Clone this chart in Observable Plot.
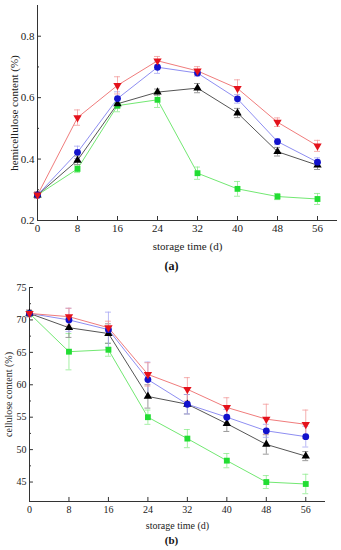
<!DOCTYPE html>
<html>
<head>
<meta charset="utf-8">
<script src="https://cdn.jsdelivr.net/npm/d3@7"></script>
<script src="https://cdn.jsdelivr.net/npm/@observablehq/plot@0.6"></script>
<style>
  html, body { margin: 0; padding: 0; background: #fff; }
  #root { width: 341px; }
  svg { display: block; }
</style>
</head>
<body>
<div id="root"></div>
<script>
// ---- shared x categories ----
const days = [0, 8, 16, 24, 32, 40, 48, 56];

// ---- (a) hemicellulose content (%) ----
const hemiRed      = [0.283, 0.535, 0.640, 0.720, 0.687, 0.630, 0.520, 0.443];
const hemiRedErr   = [0.010, 0.025, 0.028, 0.014, 0.014, 0.028, 0.014, 0.018];
const hemiBlue     = [0.283, 0.422, 0.597, 0.699, 0.680, 0.596, 0.457, 0.390];
const hemiBlueErr  = [0.010, 0.020, 0.022, 0.020, 0.010, 0.014, 0.010, 0.014];
const hemiBlack    = [0.283, 0.396, 0.580, 0.618, 0.631, 0.550, 0.424, 0.380];
const hemiBlackErr = [0.010, 0.014, 0.014, 0.010, 0.015, 0.015, 0.014, 0.014];
const hemiGreen    = [0.283, 0.368, 0.574, 0.593, 0.354, 0.303, 0.278, 0.270];
const hemiGreenErr = [0.010, 0.012, 0.020, 0.025, 0.020, 0.024, 0.010, 0.018];
const hemiTicks      = [0.2, 0.4, 0.6, 0.8];
const hemiMinorTicks = [0.3, 0.5, 0.7];

// ---- (b) cellulose content (%) ----
const celRed      = [71.0, 70.5, 68.8, 61.6, 59.3, 56.5, 54.7, 53.9];
const celRedErr   = [0.5, 1.3, 1.0, 1.8, 1.8, 1.5, 2.3, 2.2];
const celBlue     = [71.0, 70.0, 68.5, 60.8, 57.0, 55.0, 52.9, 52.0];
const celBlueErr  = [0.5, 1.8, 2.7, 2.7, 1.5, 1.2, 1.0, 1.6];
const celBlack    = [71.0, 68.8, 67.9, 58.2, 57.0, 54.0, 50.8, 49.0];
const celBlackErr = [0.5, 1.5, 1.5, 1.8, 1.5, 1.2, 1.5, 0.7];
const celGreen    = [71.0, 65.1, 65.4, 55.0, 51.7, 48.3, 45.0, 44.7];
const celGreenErr = [0.5, 2.8, 1.0, 1.1, 1.4, 1.1, 1.0, 1.5];
const celTicks      = [45, 50, 55, 60, 65, 70, 75];
const celMinorTicks = [47.5, 52.5, 57.5, 62.5, 67.5, 72.5];

// ---- styles ----
const styles = {
  red:   {marker: "#e4121c", line: "#f07c7c", err: "#f29a9a", symbol: "triangle", rotate: 180, r: 3.1},
  blue:  {marker: "#1212cc", line: "#8e8ef2", err: "#a6a6f2", symbol: "circle",   rotate: 0,   r: 3.4},
  black: {marker: "#000000", line: "#555555", err: "#808080", symbol: "triangle", rotate: 0,   r: 3.1},
  green: {marker: "#22dd33", line: "#72e872", err: "#8eec8e", symbol: "square",   rotate: 0,   r: 3.3}
};

function rows(vals, errs) {
  return days.map((d, i) => ({day: d, v: vals[i], e: errs[i]}));
}

function makeChart(cfg) {
  const order = ["green", "black", "blue", "red"];
  const ymin = cfg.yDomain[0];
  const marks = [];
  // axis lines
  marks.push(Plot.ruleX([0], {stroke: "#333", strokeWidth: 1}));
  marks.push(Plot.ruleY([ymin], {stroke: "#333", strokeWidth: 1}));
  // inward ticks
  marks.push(Plot.ruleY(cfg.ticks, {y: d => d, x1: 0, x2: cfg.xTickLen, stroke: "#333", strokeWidth: 1}));
  marks.push(Plot.ruleY(cfg.minorTicks, {y: d => d, x1: 0, x2: cfg.xTickLen * 0.5, stroke: "#333", strokeWidth: 1}));
  marks.push(Plot.ruleX(days, {x: d => d, y1: ymin, y2: ymin + cfg.yTickLen, stroke: "#333", strokeWidth: 1}));
  // lines
  for (const k of order) {
    marks.push(Plot.line(cfg.series[k], {x: "day", y: "v", stroke: styles[k].line, strokeWidth: 1}));
  }
  // error bars
  for (const k of order) {
    const s = styles[k];
    const data = cfg.series[k];
    marks.push(Plot.ruleX(data, {x: "day", y1: d => d.v - d.e, y2: d => d.v + d.e, stroke: s.err, strokeWidth: 0.8}));
    marks.push(Plot.ruleY(data, {y: d => d.v + d.e, x1: d => d.day - cfg.cap, x2: d => d.day + cfg.cap, stroke: s.err, strokeWidth: 0.8}));
    marks.push(Plot.ruleY(data, {y: d => d.v - d.e, x1: d => d.day - cfg.cap, x2: d => d.day + cfg.cap, stroke: s.err, strokeWidth: 0.8}));
  }
  // markers
  for (const k of order) {
    const s = styles[k];
    marks.push(Plot.dot(cfg.series[k], {x: "day", y: "v", symbol: s.symbol, r: s.r, rotate: s.rotate, fill: s.marker, stroke: "none"}));
  }
  // axes (labels only)
  marks.push(Plot.axisX({ticks: days, tickSize: 0, tickPadding: 4, label: null, fontSize: cfg.fontSize, fill: "#222"}));
  marks.push(Plot.axisY({ticks: cfg.ticks, tickSize: 0, tickPadding: 3, label: null, tickFormat: cfg.tickFormat, fontSize: cfg.fontSize, fill: "#222"}));
  // titles
  marks.push(Plot.text([cfg.xTitle], {frameAnchor: "bottom", dy: cfg.xTitleDy, lineAnchor: "middle", textAnchor: "middle", fontSize: cfg.fontSize, fill: "#222"}));
  marks.push(Plot.text([cfg.yTitle], {frameAnchor: "left", dx: cfg.yTitleDx, rotate: -90, lineAnchor: "middle", textAnchor: "middle", fontSize: cfg.fontSize, fill: "#222"}));
  marks.push(Plot.text([cfg.panel], {frameAnchor: "bottom", dy: cfg.panelDy, dx: cfg.panelDx, lineAnchor: "middle", textAnchor: "middle", fontSize: cfg.fontSize + 1, fontWeight: "bold", fill: "#111"}));

  return Plot.plot({
    width: 341,
    height: cfg.height,
    marginTop: cfg.margins[0],
    marginRight: cfg.margins[1],
    marginBottom: cfg.margins[2],
    marginLeft: cfg.margins[3],
    x: {domain: [0, 60]},
    y: {domain: cfg.yDomain},
    style: {fontFamily: "Liberation Serif", fontSize: cfg.fontSize + "px", background: "#fff", color: "#222", overflow: "visible"},
    marks
  });
}

const chartA = makeChart({
  height: 275,
  margins: [5, 4, 55, 37],
  yDomain: [0.2, 0.9],
  ticks: hemiTicks,
  minorTicks: hemiMinorTicks,
  tickFormat: d3.format(".1f"),
  xTickLen: 0.8,
  yTickLen: 0.013,
  cap: 0.6,
  fontSize: 11,
  xTitle: "storage time (d)",
  yTitle: "hemicellulose content (%)",
  panel: "(a)",
  xTitleDy: 26,
  yTitleDx: -23,
  panelDy: 46,
  panelDx: -16,
  series: {
    red: rows(hemiRed, hemiRedErr),
    blue: rows(hemiBlue, hemiBlueErr),
    black: rows(hemiBlack, hemiBlackErr),
    green: rows(hemiGreen, hemiGreenErr)
  }
});

const chartB = makeChart({
  height: 275,
  margins: [12, 16, 49, 29],
  yDomain: [42, 75],
  ticks: celTicks,
  minorTicks: celMinorTicks,
  tickFormat: d => String(d),
  xTickLen: 0.8,
  yTickLen: 0.62,
  cap: 0.6,
  fontSize: 10,
  xTitle: "storage time (d)",
  yTitle: "cellulose content (%)",
  panel: "(b)",
  xTitleDy: 24,
  yTitleDx: -21,
  panelDy: 39,
  panelDx: -6,
  series: {
    red: rows(celRed, celRedErr),
    blue: rows(celBlue, celBlueErr),
    black: rows(celBlack, celBlackErr),
    green: rows(celGreen, celGreenErr)
  }
});

const root = document.getElementById("root");
root.appendChild(chartA);
root.appendChild(chartB);
</script>
</body>
</html>
